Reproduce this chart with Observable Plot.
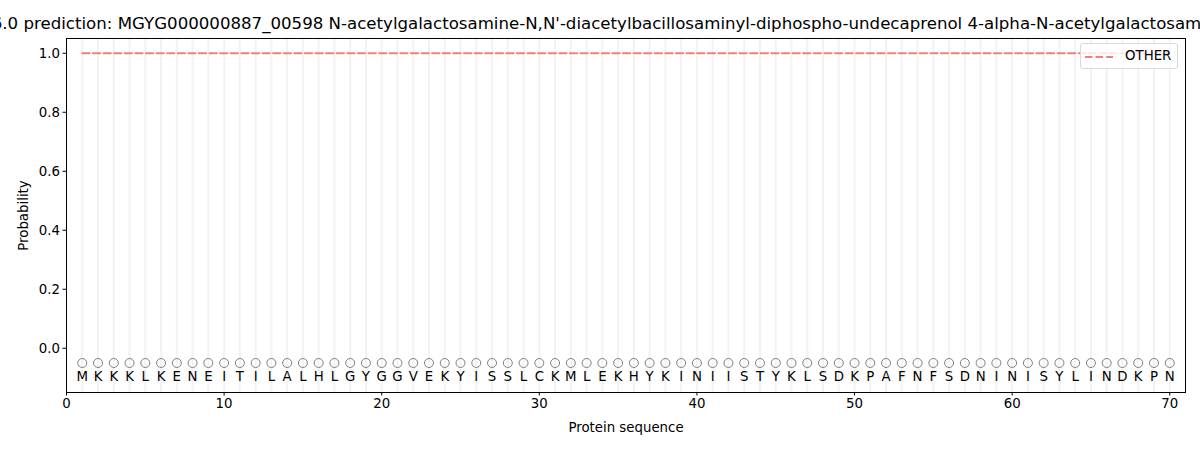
<!DOCTYPE html>
<html><head><meta charset="utf-8">
<script src="https://cdn.jsdelivr.net/npm/d3@7"></script>
<script src="https://cdn.jsdelivr.net/npm/@observablehq/plot@0.6"></script>
<style>
html,body{margin:0;padding:0;background:#fff;}
#wrap{position:relative;width:1200px;height:450px;overflow:hidden;font-family:"DejaVu Sans",sans-serif;}
#title{position:absolute;top:14px;left:625.5px;transform:translateX(-50%);white-space:nowrap;font-size:16.62px;color:#000;line-height:19px;}
#legend{position:absolute;left:1080px;top:43px;width:98px;height:26px;border:1px solid #d9d9d9;border-radius:3px;background:rgba(255,255,255,0.8);box-sizing:border-box;}
#legend span{position:absolute;left:44px;top:4px;font-size:13.33px;line-height:16px;}
#legend svg{position:absolute;left:4px;top:11px;}
</style></head>
<body><div id="wrap">
<div id="chart"></div>
<div id="title">SignalP 6.0 prediction: MGYG000000887_00598 N-acetylgalactosamine-N,N'-diacetylbacillosaminyl-diphospho-undecaprenol 4-alpha-N-acetylgalactosaminyltransferase</div>
<div id="legend"><svg width="30" height="4"><line x1="0" y1="2" x2="28" y2="2" stroke="#f08080" stroke-width="2" stroke-dasharray="7.4,3.2"/></svg><span>OTHER</span></div>
</div>
<script>
const sequence = "MKKKLKENEITILALHLGYGGVEKYISSLCKMLEKHYKINIISTYKLSDKPAFNFSDNINISYLINDKPN".split("");
const positions = sequence.map((_, i) => i + 1);
const otherProb = positions.map(() => 1.0);
const xTicks = [0, 10, 20, 30, 40, 50, 60, 70];
const yTicks = [0.0, 0.2, 0.4, 0.6, 0.8, 1.0];

const residues = positions.map((p, i) => ({pos: p, aa: sequence[i], other: otherProb[i]}));

const chart = Plot.plot({
  width: 1200,
  height: 450,
  marginLeft: 66,
  marginRight: 15,
  marginTop: 38,
  marginBottom: 58,
  style: {fontFamily: "DejaVu Sans, sans-serif", fontSize: "13.33px", color: "#000", background: "#fff"},
  x: {domain: [0, 71]},
  y: {domain: [-0.15, 1.05]},
  marks: [
    Plot.ruleX(residues, {x: "pos", stroke: "#000", strokeOpacity: 0.05, strokeWidth: 2}),
    Plot.lineY(residues, {x: "pos", y: "other", stroke: "#f08080", strokeWidth: 2, strokeDasharray: "7.4,3.2"}),
    Plot.dot(residues, {x: "pos", y: () => -0.05, r: 4.5, stroke: "#808080", strokeWidth: 1, fill: "none"}),
    Plot.text(residues, {x: "pos", y: () => -0.1, text: "aa", fontSize: 13.33, fill: "#000", dy: -1}),
    Plot.axisX({ticks: xTicks, tickSize: 3.5, tickPadding: 3, label: "Protein sequence", labelAnchor: "center", labelArrow: "none", labelOffset: 39}),
    Plot.axisY({ticks: yTicks, tickFormat: d3.format(".1f"), tickSize: 3.5, tickPadding: 3, label: "Probability", labelAnchor: "center", labelArrow: "none", labelOffset: 48}),
    Plot.frame({stroke: "#000", strokeWidth: 1})
  ]
});
document.getElementById("chart").appendChild(chart);
</script>
</body></html>
